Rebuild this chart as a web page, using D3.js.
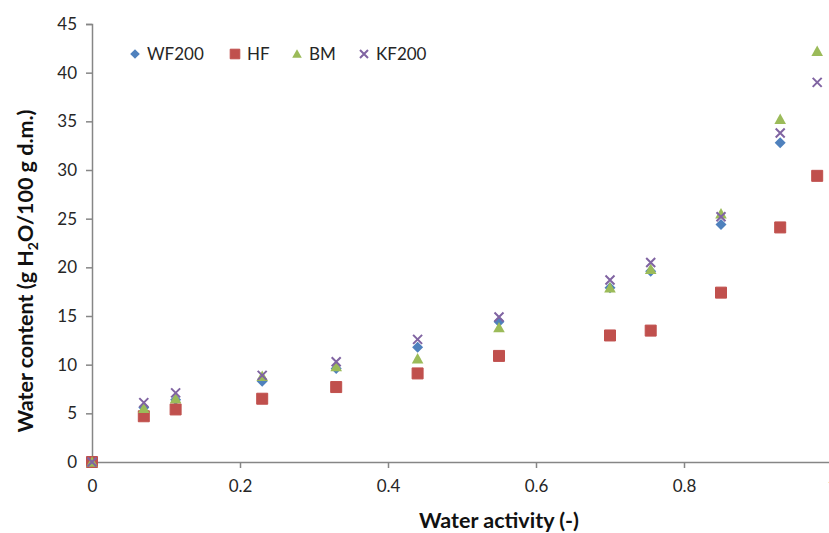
<!DOCTYPE html>
<html>
<head>
<meta charset="utf-8">
<script src="https://cdn.jsdelivr.net/npm/d3@7"></script>
<style>
  body { margin: 0; background: #fff; }
  text { font-family: Lato, "Open Sans", sans-serif; }
</style>
</head>
<body>
<div id="chart"></div>
<script>
var aw = [0, 0.07, 0.113, 0.23, 0.33, 0.44, 0.55, 0.70, 0.755, 0.85, 0.93, 0.98];

var wf200 = [0, 5.6, 6.4, 8.3, 9.6, 11.8, 14.4, 17.9, 19.6, 24.4, 32.8, null];
var hf    = [0, 4.7, 5.4, 6.5, 7.7, 9.1, 10.9, 13.0, 13.5, 17.4, 24.1, 29.4];
var bm    = [0, 5.5, 6.5, 8.8, 9.8, 10.6, 13.8, 17.9, 19.8, 25.5, 35.2, 42.2];
var kf200 = [0, 6.1, 7.1, 8.9, 10.3, 12.6, 14.9, 18.7, 20.5, 25.2, 33.8, 39.0];

var seriesNames = ["WF200", "HF", "BM", "KF200"];
var seriesColors = ["#4f81bd", "#c0504d", "#9bbb59", "#8064a2"];
var xTicks = [0, 0.2, 0.4, 0.6, 0.8, 1];
var yTicks = [0, 5, 10, 15, 20, 25, 30, 35, 40, 45];

var width = 829, height = 533;

var svg = d3.select("#chart").append("svg")
    .attr("width", width)
    .attr("height", height);

var x = d3.scaleLinear().domain([0, 1]).range([92, 832]);
var y = d3.scaleLinear().domain([0, 45]).range([462, 24]);

// axes
var xAxis = svg.append("g")
    .attr("transform", "translate(0," + y(0) + ")")
    .call(d3.axisBottom(x).tickValues(xTicks).tickSize(6).tickPadding(12)
        .tickFormat(function (d) { return d === 0 ? "0" : d3.format("")(d); }));

var yAxis = svg.append("g")
    .attr("transform", "translate(" + x(0) + ",0)")
    .call(d3.axisLeft(y).tickValues(yTicks).tickSize(6).tickPadding(9));

[xAxis, yAxis].forEach(function (a) {
  a.select(".domain").attr("stroke", "#868686").attr("stroke-width", 1.5);
  a.selectAll(".tick line").attr("stroke", "#868686").attr("stroke-width", 1.5);
  a.selectAll(".tick text")
    .attr("fill", "#262626")
    .style("font-size", "17px")
    .style("font-family", "Lato, 'Open Sans', sans-serif");
});

// markers: diamond, square, triangle, x
function markerPath(i, r) {
  if (i === 0) return "M0," + (-r) + "L" + r + ",0L0," + r + "L" + (-r) + ",0Z";
  if (i === 1) return "M" + (-r) + "," + (-r) + "h" + (2 * r) + "v" + (2 * r) + "h" + (-2 * r) + "Z";
  if (i === 2) return "M0," + (-r) + "L" + r + "," + (r * 0.8) + "L" + (-r) + "," + (r * 0.8) + "Z";
  return "M" + (-r) + "," + (-r) + "L" + r + "," + r + "M" + r + "," + (-r) + "L" + (-r) + "," + r;
}
var radii = [5.5, 5.5, 5.8, 4.5];

function drawMarker(g, i, cx, cy, r) {
  var p = g.append("path")
    .attr("d", markerPath(i, r))
    .attr("transform", "translate(" + cx + "," + cy + ")");
  if (i === 3) p.attr("fill", "none").attr("stroke", seriesColors[i]).attr("stroke-width", 2);
  else p.attr("fill", seriesColors[i]);
  if (i === 1) p.attr("stroke", seriesColors[i]).attr("stroke-width", 1).attr("stroke-linejoin", "round");
}

[wf200, hf, bm, kf200].forEach(function (vals, i) {
  var g = svg.append("g");
  aw.forEach(function (a, k) {
    if (vals[k] === null) return;
    drawMarker(g, i, x(a), y(vals[k]), radii[i]);
  });
});

// legend
var legX = [135, 235, 297, 364];
var leg = svg.append("g");
seriesNames.forEach(function (name, i) {
  drawMarker(leg, i, legX[i], 54, i === 3 ? 4 : 4.8);
  leg.append("text")
    .attr("x", legX[i] + 12)
    .attr("y", 60)
    .attr("fill", "#262626")
    .style("font-size", "17px")
    .text(name);
});

// axis titles
svg.append("text")
    .attr("x", 499)
    .attr("y", 528)
    .attr("text-anchor", "middle")
    .style("font-size", "21.5px")
    .style("font-weight", "bold")
    .attr("fill", "#111")
    .text("Water activity (-)");

var yt = svg.append("text")
    .attr("transform", "translate(33,271) rotate(-90)")
    .attr("text-anchor", "middle")
    .style("font-size", "21.5px")
    .style("font-weight", "bold")
    .attr("fill", "#111");
yt.append("tspan").text("Water content (g H");
yt.append("tspan").attr("dy", 5).style("font-size", "14px").text("2");
yt.append("tspan").attr("dy", -5).text("O/100 g d.m.)");
</script>
</body>
</html>
